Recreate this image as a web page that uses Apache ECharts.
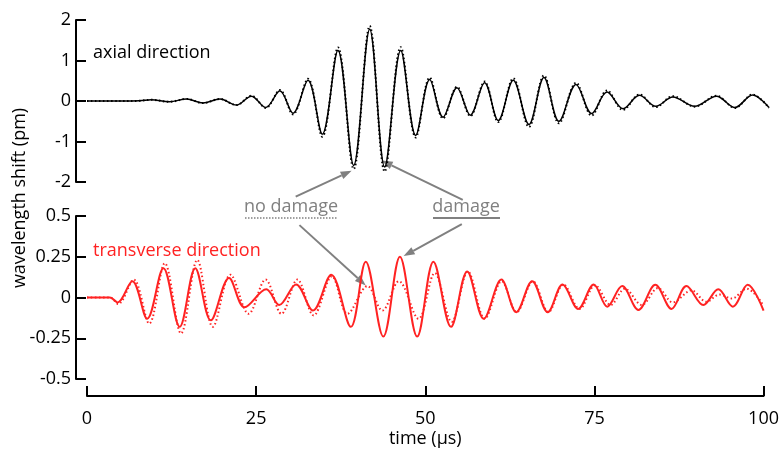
<!DOCTYPE html>
<html>
<head>
<meta charset="utf-8">
<script src="https://cdn.jsdelivr.net/npm/echarts@6/dist/echarts.min.js"></script>
<style>
  html, body { margin: 0; padding: 0; background: #fff; }
  #chart { width: 782px; height: 449px; }
</style>
</head>
<body>
<div id="chart"></div>
<script>
// axial direction (top panel), extrema
const axialTime = [0, 5, 7.7, 9.4, 12.1, 14.6, 17.0, 19.5, 21.9, 24.1,
  26.2, 28.3, 30.2, 32.4, 34.5, 36.8, 39.1, 41.45, 43.65, 46.0,
  48.2, 50.25, 52.2, 54.25, 56.2, 58.3, 60.3, 62.5, 64.8, 67.0,
  69.2, 71.7, 74.0, 76.25, 78.6, 81.0, 83.4, 85.9, 89.1, 92.3,
  95.0, 97.6, 100];
const axialDamage = [0, 0, 0.005, 0.03, -0.02, 0.05, -0.05, 0.05, -0.1, 0.12,
  -0.16, 0.25, -0.3, 0.51, -0.82, 1.25, -1.59, 1.77, -1.63, 1.25,
  -0.85, 0.53, -0.4, 0.33, -0.35, 0.45, -0.48, 0.51, -0.58, 0.58,
  -0.5, 0.41, -0.31, 0.22, -0.19, 0.14, -0.13, 0.1, -0.13, 0.12,
  -0.16, 0.15, -0.16];
const axialNoDamage = [0, 0, 0.005, 0.03, -0.02, 0.05, -0.05, 0.05, -0.1, 0.13,
  -0.17, 0.27, -0.33, 0.55, -0.88, 1.32, -1.68, 1.85, -1.74, 1.33,
  -0.9, 0.58, -0.43, 0.35, -0.37, 0.48, -0.52, 0.56, -0.64, 0.63,
  -0.55, 0.45, -0.36, 0.26, -0.22, 0.16, -0.15, 0.12, -0.14, 0.13,
  -0.17, 0.16, -0.17];

// transverse direction (bottom panel)
const transTime = [0, 3.4, 4.5, 6.7, 8.9, 11.3, 13.7, 16.0, 18.3, 21.0,
  23.3, 26.5, 28.4, 30.9, 33.4, 36.1, 39.0, 41.2, 43.8, 46.25,
  48.8, 51.2, 53.8, 56.2, 58.65, 61.25, 63.45, 65.8, 68.1, 70.3,
  72.6, 74.9, 76.9, 79.1, 81.5, 84.0, 86.4, 88.6, 91.1, 93.3,
  95.45, 97.65, 100];
const transDamage = [0, 0, -0.03, 0.1, -0.13, 0.18, -0.18, 0.18, -0.14, 0.12,
  -0.06, 0.05, -0.046, 0.08, -0.08, 0.14, -0.18, 0.22, -0.24, 0.25,
  -0.24, 0.22, -0.18, 0.16, -0.13, 0.11, -0.09, 0.1, -0.09, 0.08,
  -0.07, 0.08, -0.056, 0.07, -0.076, 0.078, -0.07, 0.07, -0.046, 0.05,
  -0.056, 0.078, -0.08];
const transNoDamageTime = [0, 3.4, 4.6, 6.9, 9.2, 11.5, 13.9, 16.3, 18.6, 21.2,
  23.9, 26.4, 28.75, 31.1, 33.5, 36.2, 38.5, 41.45, 43.65, 46.1,
  49.0, 51.4, 53.9, 56.3, 58.8, 61.3, 63.5, 65.9, 68.2, 70.4,
  72.8, 75.1, 77.4, 79.5, 82.0, 84.4, 86.6, 89.35, 91.55, 93.5,
  95.3, 97.5, 100];
const transNoDamage = [0, 0, -0.04, 0.11, -0.16, 0.21, -0.22, 0.23, -0.18, 0.14,
  -0.1, 0.11, -0.1, 0.11, -0.11, 0.13, -0.1, 0.07, -0.08, 0.1,
  -0.13, 0.15, -0.15, 0.16, -0.13, 0.1, -0.09, 0.1, -0.09, 0.08,
  -0.07, 0.075, -0.046, 0.054, -0.046, 0.058, -0.03, 0.044, -0.026, 0.018,
  -0.006, 0.054, -0.05];

const xTicks = [0, 25, 50, 75, 100];

// arrows [from, to] in each panel's data space
const arrowsTop = [
  [[30.6, -2.36], [38.8, -1.72]],
  [[55.1, -2.44], [43.2, -1.47]]
];
const arrowsBottom = [
  [[31.4, 0.444], [41.2, 0.074]],
  [[55.4, 0.45], [46.8, 0.254]]
];

const FONT = 'Open Sans';
const FS = 18;
const GRAY = '#808080';
const RED = '#ff2222';

function pairs(t, v) {
  return t.map((x, i) => [x, v[i]]);
}

const axisStyle = {
  axisLine: { show: true, onZero: false, lineStyle: { color: '#000', width: 2 } },
  axisTick: { show: true, inside: true, length: 10, lineStyle: { color: '#000', width: 2 } },
  axisLabel: { color: '#000', fontSize: FS, fontFamily: FONT },
  splitLine: { show: false }
};

const chart = echarts.init(document.getElementById('chart'));

chart.setOption({
  animation: false,
  grid: [
    { left: 87, right: 13, top: 20, height: 162 },
    { left: 87, right: 13, top: 216, height: 166 }
  ],
  xAxis: [
    { gridIndex: 0, type: 'value', min: 0, max: 100, show: false },
    Object.assign({}, axisStyle, {
      gridIndex: 1, type: 'value', min: 0, max: 100, interval: 25, offset: 17,
      axisLabel: Object.assign({}, axisStyle.axisLabel, { margin: 14, customValues: xTicks }),
      axisTick: Object.assign({}, axisStyle.axisTick, { customValues: xTicks }),
      name: 'time (µs)', nameLocation: 'middle', nameGap: 34,
      nameTextStyle: { color: '#000', fontSize: FS, fontFamily: FONT }
    })
  ],
  yAxis: [
    Object.assign({}, axisStyle, {
      gridIndex: 0, type: 'value', min: -2, max: 2, interval: 1, offset: 11,
      axisLabel: Object.assign({}, axisStyle.axisLabel, { margin: 5 })
    }),
    Object.assign({}, axisStyle, {
      gridIndex: 1, type: 'value', min: -0.5, max: 0.5, interval: 0.25, offset: 11,
      axisLabel: Object.assign({}, axisStyle.axisLabel, { margin: 5 })
    })
  ],
  series: [
    {
      name: 'axial no damage', type: 'line', xAxisIndex: 0, yAxisIndex: 0,
      data: pairs(axialTime, axialNoDamage), smooth: 0.35, showSymbol: false,
      lineStyle: { color: '#000', width: 2, type: [1.5, 2.5] }
    },
    {
      name: 'axial damage', type: 'line', xAxisIndex: 0, yAxisIndex: 0,
      data: pairs(axialTime, axialDamage), smooth: 0.35, showSymbol: false,
      lineStyle: { color: '#000', width: 1.5 }
    },
    {
      name: 'transverse no damage', type: 'line', xAxisIndex: 1, yAxisIndex: 1,
      data: pairs(transNoDamageTime, transNoDamage), smooth: 0.35, showSymbol: false,
      lineStyle: { color: RED, width: 2, type: [1.5, 2.5] }
    },
    {
      name: 'transverse damage', type: 'line', xAxisIndex: 1, yAxisIndex: 1,
      data: pairs(transTime, transDamage), smooth: 0.35, showSymbol: false,
      lineStyle: { color: RED, width: 2 }
    }
  ]
});

// arrows placed through the panels' own scales
function arrow(a, gridIndex) {
  const p0 = chart.convertToPixel({ gridIndex: gridIndex }, a[0]);
  const p1 = chart.convertToPixel({ gridIndex: gridIndex }, a[1]);
  const dx = p1[0] - p0[0], dy = p1[1] - p0[1];
  const len = Math.sqrt(dx * dx + dy * dy);
  const ux = dx / len, uy = dy / len;
  const headL = 11, headW = 8;
  const bx = p1[0] - ux * headL, by = p1[1] - uy * headL;
  return [
    {
      type: 'line', silent: true,
      shape: { x1: p0[0], y1: p0[1], x2: bx, y2: by },
      style: { stroke: GRAY, lineWidth: 2 }
    },
    {
      type: 'polygon', silent: true,
      shape: { points: [p1, [bx - uy * headW / 2, by + ux * headW / 2], [bx + uy * headW / 2, by - ux * headW / 2]] },
      style: { fill: GRAY }
    }
  ];
}

let graphics = [
  {
    type: 'text', x: 20, y: 198, rotation: Math.PI / 2,
    style: {
      text: 'wavelength shift (pm)', fill: '#000', fontSize: FS, fontFamily: FONT,
      align: 'center', verticalAlign: 'middle'
    }
  },
  {
    type: 'text', x: 93, y: 53,
    style: { text: 'axial direction', fill: '#000', fontSize: FS, fontFamily: FONT, verticalAlign: 'middle' }
  },
  {
    type: 'text', x: 93, y: 251,
    style: { text: 'transverse direction', fill: RED, fontSize: FS, fontFamily: FONT, verticalAlign: 'middle' }
  },
  {
    type: 'text', x: 291, y: 207,
    style: { text: 'no damage', fill: GRAY, fontSize: FS, fontFamily: FONT, align: 'center', verticalAlign: 'middle' }
  },
  {
    type: 'line', shape: { x1: 245, y1: 218, x2: 337, y2: 218 },
    style: { stroke: GRAY, lineWidth: 1.5, lineDash: [1.5, 1.5] }
  },
  {
    type: 'text', x: 466, y: 207,
    style: { text: 'damage', fill: GRAY, fontSize: FS, fontFamily: FONT, align: 'center', verticalAlign: 'middle' }
  },
  {
    type: 'line', shape: { x1: 433, y1: 218, x2: 500, y2: 218 },
    style: { stroke: GRAY, lineWidth: 2 }
  }
];
arrowsTop.forEach(a => { graphics = graphics.concat(arrow(a, 0)); });
arrowsBottom.forEach(a => { graphics = graphics.concat(arrow(a, 1)); });

chart.setOption({ graphic: graphics });
</script>
</body>
</html>
